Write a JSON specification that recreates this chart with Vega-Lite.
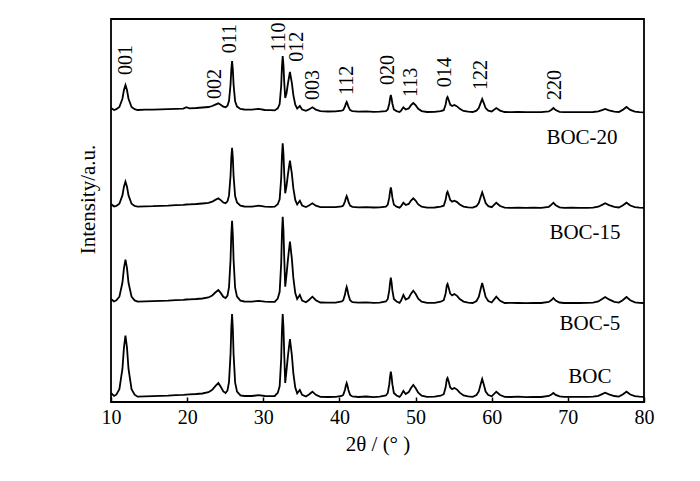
{
  "$schema": "https://vega.github.io/schema/vega-lite/v6.json",
  "width": 533,
  "height": 383,
  "autosize": "none",
  "padding": {"left": 111, "top": 19, "right": 56, "bottom": 79},
  "background": "#ffffff",
  "config": {
    "font": "Liberation Serif",
    "view": {"stroke": "#000000", "strokeWidth": 1.8},
    "text": {"font": "Liberation Serif", "color": "#000000"}
  },
  "layer": [
    {
      "data": {"values": [
        {"t":10.0,"a":294,"b":198,"c":103,"d":9},
        {"t":10.4,"a":292,"b":195.5,"c":100.5,"d":6},
        {"t":10.7,"a":292.8,"b":196,"c":101.6,"d":7.3},
        {"t":11.1,"a":295,"b":198.3,"c":105.3,"d":12.8},
        {"t":11.5,"a":303.3,"b":206.6,"c":119.2,"d":33},
        {"t":11.7,"a":312,"b":215.3,"c":133.9,"d":54.3},
        {"t":11.9,"a":317,"b":220.3,"c":142.3,"d":66.5},
        {"t":12.1,"a":312,"b":215.3,"c":133.9,"d":54.3},
        {"t":12.3,"a":303.3,"b":206.6,"c":119.2,"d":33},
        {"t":12.7,"a":295,"b":198.3,"c":105.3,"d":12.8},
        {"t":13.1,"a":292.8,"b":196,"c":101.6,"d":7.3},
        {"t":13.5,"a":292,"b":195.3,"c":100.3,"d":5.3},
        {"t":14.5,"a":292.3,"b":195.6,"c":100.6,"d":5.6},
        {"t":15.5,"a":292.4,"b":195.8,"c":100.9,"d":5.9},
        {"t":16.5,"a":292.7,"b":196.2,"c":101.2,"d":6.2},
        {"t":17.5,"a":292.9,"b":196.3,"c":101.4,"d":6.4},
        {"t":18.5,"a":293.2,"b":196.8,"c":101.8,"d":6.9},
        {"t":19.5,"a":293.4,"b":197.2,"c":102.2,"d":7.2},
        {"t":19.9,"a":294.8,"b":197.5,"c":102.5,"d":7.4},
        {"t":20.3,"a":293.6,"b":197.6,"c":102.6,"d":7.6},
        {"t":21.2,"a":294,"b":198,"c":103,"d":8},
        {"t":22.0,"a":294.5,"b":198.5,"c":103.5,"d":8.5},
        {"t":22.8,"a":295,"b":199.1,"c":104.5,"d":9.8},
        {"t":23.3,"a":296,"b":200.3,"c":106.5,"d":12.2},
        {"t":23.7,"a":297.4,"b":202.1,"c":109.5,"d":15.9},
        {"t":24.1,"a":298.7,"b":203.7,"c":112,"d":19},
        {"t":24.45,"a":297,"b":201.6,"c":108.6,"d":14.8},
        {"t":24.75,"a":295.3,"b":199.5,"c":105.2,"d":10.6},
        {"t":25.05,"a":294.7,"b":198.8,"c":103.9,"d":9},
        {"t":25.3,"a":296.2,"b":200.6,"c":106.4,"d":11.5},
        {"t":25.5,"a":301.2,"b":206.6,"c":114.9,"d":20.2},
        {"t":25.7,"a":317.6,"b":226.3,"c":142.3,"d":48.1},
        {"t":25.8,"a":332.5,"b":244.2,"c":167.2,"d":73.6},
        {"t":25.9,"a":341,"b":254.3,"c":181.3,"d":88},
        {"t":26.0,"a":332.4,"b":244.1,"c":167.1,"d":73.5},
        {"t":26.1,"a":317.4,"b":226,"c":142,"d":47.8},
        {"t":26.3,"a":300.7,"b":206,"c":114.3,"d":19.6},
        {"t":26.55,"a":295.4,"b":199.5,"c":105.3,"d":10.4},
        {"t":27.0,"a":293,"b":196.4,"c":101.3,"d":6.6},
        {"t":27.5,"a":292.5,"b":195.5,"c":100.5,"d":6},
        {"t":28.5,"a":292.3,"b":195.4,"c":100.4,"d":6},
        {"t":29.4,"a":293.2,"b":196.3,"c":101.2,"d":6.8},
        {"t":30.2,"a":292,"b":195.3,"c":100.3,"d":6},
        {"t":31.0,"a":291.8,"b":195.2,"c":100.1,"d":5.9},
        {"t":31.5,"a":291.6,"b":195.3,"c":100.1,"d":6},
        {"t":31.9,"a":293.7,"b":197.7,"c":103.4,"d":9.1},
        {"t":32.15,"a":298,"b":202.8,"c":110.2,"d":15.7},
        {"t":32.35,"a":316,"b":223.8,"c":138.4,"d":42.8},
        {"t":32.45,"a":335.1,"b":246,"c":168.2,"d":71.6},
        {"t":32.55,"a":346,"b":258.7,"c":185.3,"d":88},
        {"t":32.65,"a":337,"b":248.3,"c":171.2,"d":74.5},
        {"t":32.75,"a":319.9,"b":228.4,"c":144.4,"d":48.5},
        {"t":32.88,"a":304,"b":208.7,"c":115.3,"d":19},
        {"t":33.05,"a":308.8,"b":215.9,"c":127.2,"d":31.6},
        {"t":33.25,"a":319.2,"b":228.4,"c":143.4,"d":47},
        {"t":33.5,"a":330,"b":241.3,"c":160.3,"d":63},
        {"t":33.75,"a":319.2,"b":228.4,"c":143.4,"d":47},
        {"t":33.95,"a":306.9,"b":213.6,"c":124.1,"d":28.7},
        {"t":34.2,"a":297.3,"b":202.1,"c":109,"d":14.4},
        {"t":34.45,"a":293.4,"b":197.5,"c":103,"d":8.7},
        {"t":34.8,"a":296,"b":201.3,"c":107,"d":12},
        {"t":35.1,"a":292.5,"b":196.5,"c":101.5,"d":7.2},
        {"t":35.6,"a":291.2,"b":195,"c":99.8,"d":5.5},
        {"t":36.0,"a":292.6,"b":196.5,"c":102,"d":7.5},
        {"t":36.45,"a":294.7,"b":198.7,"c":105.3,"d":10.3},
        {"t":36.9,"a":292.4,"b":196.3,"c":101.8,"d":7.2},
        {"t":37.5,"a":290.8,"b":194.9,"c":99.5,"d":5.2},
        {"t":38.5,"a":290.5,"b":194.8,"c":99.4,"d":5},
        {"t":39.5,"a":290.6,"b":194.9,"c":99.3,"d":5.2},
        {"t":40.3,"a":291.3,"b":195.7,"c":100.6,"d":6.1},
        {"t":40.5,"a":291.9,"b":196.5,"c":101.7,"d":7.1},
        {"t":40.72,"a":295.3,"b":200.4,"c":107.2,"d":12},
        {"t":40.85,"a":298.3,"b":204,"c":112.2,"d":16.5},
        {"t":40.95,"a":300,"b":206,"c":115,"d":19},
        {"t":41.05,"a":298.3,"b":204,"c":112.2,"d":16.5},
        {"t":41.18,"a":295.3,"b":200.4,"c":107.2,"d":12},
        {"t":41.4,"a":291.9,"b":196.5,"c":101.7,"d":7.1},
        {"t":41.7,"a":290.9,"b":195.2,"c":99.9,"d":5.6},
        {"t":42.5,"a":290.3,"b":194.6,"c":99.3,"d":5},
        {"t":43.5,"a":290.6,"b":194.8,"c":99.6,"d":5.5},
        {"t":44.5,"a":290.1,"b":194.5,"c":99.2,"d":4.9},
        {"t":45.3,"a":290.3,"b":194.6,"c":99.4,"d":5.3},
        {"t":46.1,"a":290.9,"b":195.4,"c":100.5,"d":6.5},
        {"t":46.35,"a":292.6,"b":197.4,"c":103,"d":9},
        {"t":46.55,"a":298.5,"b":204.6,"c":111.8,"d":17.8},
        {"t":46.65,"a":303.6,"b":210.6,"c":119.3,"d":25.3},
        {"t":46.75,"a":307,"b":214.7,"c":124.3,"d":30.3},
        {"t":46.85,"a":303.6,"b":210.6,"c":119.3,"d":25.3},
        {"t":46.95,"a":298.5,"b":204.6,"c":111.8,"d":17.8},
        {"t":47.15,"a":292.6,"b":197.4,"c":103,"d":9},
        {"t":47.5,"a":290.9,"b":195.4,"c":100.5,"d":6.5},
        {"t":47.9,"a":290,"b":194.4,"c":99.2,"d":5.2},
        {"t":48.1,"a":291.4,"b":195.9,"c":101.5,"d":7},
        {"t":48.4,"a":294.7,"b":199.3,"c":107,"d":11},
        {"t":48.7,"a":292.5,"b":197,"c":102.5,"d":8},
        {"t":49.1,"a":293.6,"b":198.1,"c":104,"d":9.9},
        {"t":49.4,"a":296.8,"b":201.4,"c":108.3,"d":14},
        {"t":49.7,"a":299,"b":203.7,"c":111.3,"d":17},
        {"t":50.0,"a":296.8,"b":201.4,"c":108.3,"d":14},
        {"t":50.35,"a":293.2,"b":197.6,"c":103.4,"d":9.3},
        {"t":50.8,"a":290.9,"b":195.3,"c":100.4,"d":6.4},
        {"t":51.5,"a":290,"b":194.4,"c":99.1,"d":5.2},
        {"t":52.5,"a":290.2,"b":194.5,"c":99.2,"d":5.3},
        {"t":53.3,"a":290.8,"b":195.3,"c":100.3,"d":6.3},
        {"t":53.7,"a":291.8,"b":196.3,"c":101.8,"d":7.8},
        {"t":53.95,"a":297.5,"b":202.2,"c":108.5,"d":14.7},
        {"t":54.1,"a":303.8,"b":208.9,"c":116.5,"d":22.7},
        {"t":54.2,"a":305,"b":210.3,"c":118,"d":24},
        {"t":54.35,"a":302,"b":207,"c":114.3,"d":20.5},
        {"t":54.55,"a":297.4,"b":202,"c":108.4,"d":14.6},
        {"t":54.8,"a":296,"b":200.4,"c":106.7,"d":12.9},
        {"t":55.1,"a":297,"b":201.3,"c":108,"d":14},
        {"t":55.45,"a":295.6,"b":199.9,"c":106.2,"d":12.4},
        {"t":55.8,"a":293.2,"b":197.5,"c":103,"d":9.3},
        {"t":56.3,"a":291,"b":195.4,"c":100.4,"d":6.6},
        {"t":56.9,"a":290.3,"b":194.6,"c":99.4,"d":5.6},
        {"t":57.5,"a":290,"b":194.3,"c":99,"d":5.2},
        {"t":58.0,"a":291.3,"b":195.8,"c":101,"d":7},
        {"t":58.3,"a":293.9,"b":198.9,"c":105,"d":10.5},
        {"t":58.55,"a":299.1,"b":205.1,"c":113,"d":17.7},
        {"t":58.75,"a":303,"b":209.7,"c":119,"d":23},
        {"t":58.95,"a":299.1,"b":205.1,"c":113,"d":17.7},
        {"t":59.2,"a":293.9,"b":198.9,"c":105,"d":10.5},
        {"t":59.55,"a":291.3,"b":195.8,"c":101,"d":7},
        {"t":60.0,"a":290.5,"b":194.8,"c":99.5,"d":5.7},
        {"t":60.6,"a":294,"b":199.3,"c":105.3,"d":10.3},
        {"t":61.1,"a":291.4,"b":196,"c":101.2,"d":7},
        {"t":61.7,"a":290,"b":194.3,"c":99,"d":5.2},
        {"t":62.5,"a":289.9,"b":194.2,"c":99.1,"d":5},
        {"t":63.5,"a":290.1,"b":194.4,"c":99,"d":5.3},
        {"t":64.5,"a":289.8,"b":194.1,"c":98.9,"d":4.9},
        {"t":65.5,"a":289.9,"b":194.3,"c":99.1,"d":5.2},
        {"t":66.5,"a":289.8,"b":194.2,"c":99,"d":5},
        {"t":67.5,"a":290.6,"b":195.2,"c":100,"d":6},
        {"t":67.85,"a":292.3,"b":197.3,"c":102,"d":7.5},
        {"t":68.1,"a":294,"b":199.3,"c":104,"d":9},
        {"t":68.4,"a":291.9,"b":196.8,"c":101.5,"d":7.1},
        {"t":68.9,"a":290.2,"b":194.7,"c":99.5,"d":5.6},
        {"t":69.5,"a":289.8,"b":194.2,"c":99,"d":5.2},
        {"t":70.5,"a":289.9,"b":194.3,"c":99.1,"d":5.1},
        {"t":71.5,"a":289.8,"b":194.2,"c":99,"d":5.2},
        {"t":72.5,"a":289.9,"b":194.2,"c":99.1,"d":5.1},
        {"t":73.3,"a":290,"b":194.4,"c":99.3,"d":5.4},
        {"t":74.0,"a":290.6,"b":195.3,"c":100.5,"d":6.2},
        {"t":74.5,"a":291.9,"b":197.1,"c":102.9,"d":7.9},
        {"t":74.9,"a":293,"b":198.7,"c":105,"d":9.3},
        {"t":75.4,"a":291.7,"b":196.9,"c":102.6,"d":7.7},
        {"t":76.1,"a":290.4,"b":195.1,"c":100.2,"d":6},
        {"t":76.7,"a":290,"b":194.5,"c":99.4,"d":5.4},
        {"t":77.2,"a":292.1,"b":196.5,"c":101.7,"d":7.5},
        {"t":77.7,"a":295,"b":199.3,"c":105,"d":10.3},
        {"t":78.2,"a":292.1,"b":196.5,"c":101.7,"d":7.5},
        {"t":78.8,"a":290.4,"b":194.8,"c":99.7,"d":5.8},
        {"t":79.4,"a":289.8,"b":194.3,"c":99.1,"d":5.3},
        {"t":80.0,"a":289.7,"b":194.2,"c":99,"d":5.2}
      ]},
      "transform": [{"fold": ["a", "b", "c", "d"], "as": ["sample", "intensity"]}],
      "mark": {"type": "line", "color": "#000000", "strokeWidth": 1.8, "clip": true, "interpolate": "linear"},
      "encoding": {
        "x": {
          "field": "t", "type": "quantitative",
          "scale": {"domain": [10, 80], "nice": false, "zero": false},
          "axis": {
            "values": [10, 15, 20, 25, 30, 35, 40, 45, 50, 55, 60, 65, 70, 75, 80],
            "labelExpr": "datum.value % 10 === 0 ? datum.label : ''",
            "domain": false, "grid": false,
            "tickSize": -5, "tickColor": "#000000", "tickWidth": 1.5,
            "labelFont": "Liberation Serif", "labelFontSize": 20, "labelColor": "#000000",
            "labelPadding": 10, "labelFlush": false, "labelOverlap": false,
            "title": "2θ / (° )", "titleFont": "Liberation Serif", "titleFontSize": 21,
            "titleFontWeight": "normal", "titleColor": "#000000", "titlePadding": 6
          }
        },
        "y": {
          "field": "intensity", "type": "quantitative",
          "scale": {"domain": [0, 383], "nice": false, "zero": false},
          "axis": {
            "domain": false, "ticks": false, "labels": false, "grid": false,
            "title": "Intensity/a.u.", "titleFont": "Liberation Serif", "titleFontSize": 21,
            "titleFontWeight": "normal", "titleColor": "#000000", "titlePadding": 13,
            "titleY": 180
          }
        },
        "detail": {"field": "sample"}
      }
    },
    {
      "data": {"values": [
        {"t": 11.94, "y": 327, "label": "001"},
        {"t": 23.66, "y": 303, "label": "002"},
        {"t": 25.6, "y": 348.7, "label": "011"},
        {"t": 32.06, "y": 350.3, "label": "110"},
        {"t": 34.47, "y": 340.3, "label": "012"},
        {"t": 36.57, "y": 302, "label": "003"},
        {"t": 41.03, "y": 307, "label": "112"},
        {"t": 46.41, "y": 317, "label": "020"},
        {"t": 49.44, "y": 305, "label": "113"},
        {"t": 53.87, "y": 314.7, "label": "014"},
        {"t": 58.63, "y": 312, "label": "122"},
        {"t": 68.34, "y": 302, "label": "220"}
      ]},
      "mark": {"type": "text", "angle": 270, "align": "left", "baseline": "middle", "fontSize": 20, "font": "Liberation Serif", "color": "#000000"},
      "encoding": {
        "x": {"field": "t", "type": "quantitative"},
        "y": {"field": "y", "type": "quantitative"},
        "text": {"field": "label"}
      }
    },
    {
      "data": {"values": [
        {"t": 71.86, "y": 264, "label": "BOC-20"},
        {"t": 72.25, "y": 169, "label": "BOC-15"},
        {"t": 72.9, "y": 78, "label": "BOC-5"},
        {"t": 72.9, "y": 25.3, "label": "BOC"}
      ]},
      "mark": {"type": "text", "align": "center", "baseline": "middle", "fontSize": 21, "font": "Liberation Serif", "color": "#000000"},
      "encoding": {
        "x": {"field": "t", "type": "quantitative"},
        "y": {"field": "y", "type": "quantitative"},
        "text": {"field": "label"}
      }
    }
  ]
}
